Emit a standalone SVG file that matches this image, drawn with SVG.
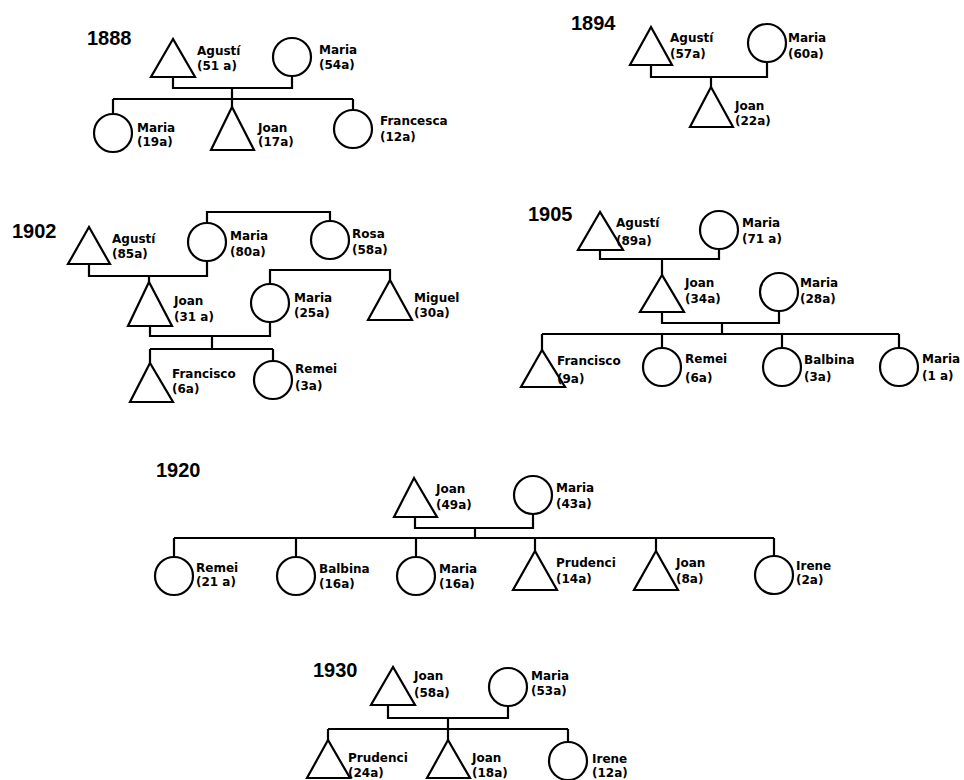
<svg xmlns="http://www.w3.org/2000/svg" width="964" height="780" viewBox="0 0 964 780">
<style>
.s{fill:#fff;stroke:#000;stroke-width:2.2}
.c path{fill:none;stroke:#000;stroke-width:2.2}
.l{font-family:"DejaVu Sans","Liberation Sans",sans-serif;font-weight:bold;font-size:12px;fill:#000}
.y{font-family:"Liberation Sans",Arial,sans-serif;font-weight:bold;font-size:20px;fill:#000}
</style>
<rect width="964" height="780" fill="#fff"/>
<g id="years">
<text class="y" x="87" y="45">1888</text>
<text class="y" x="571" y="30">1894</text>
<text class="y" x="12" y="238">1902</text>
<text class="y" x="528" y="221">1905</text>
<text class="y" x="156" y="477">1920</text>
<text class="y" x="313" y="677">1930</text>
</g>
<g id="connectors" class="c">
<path d="M173,77 V88 H292 V76 M232,88 V99 M113,99 H353 M113,99 V114 M232,99 V107 M353,99 V110"/>
<path d="M651,65 V77 H767 V62 M711,77 V87"/>
<path d="M89,264 V276 H207 V261 M207,223 V212 H330 V221 M149,276 V282 M270,284 V270 H390 V280 M150,326 V336 H270 V322 M212,336 V349 M150,349 H273 M150,349 V363 M273,349 V361"/>
<path d="M600,250 V259 H719 V249 M662,259 V275 M662,312 V323 H779 V311 M722,323 V334 M542,334 H899 M542,334 V350 M662,334 V348 M782,334 V348 M899,334 V348"/>
<path d="M415,517 V528 H533 V514 M475,528 V538 M174,538 H774 M174,538 V557 M296,538 V557 M416,538 V557 M535,538 V551 M656,538 V551 M774,538 V556"/>
<path d="M388,705 V718 H508 V706 M448,718 V729 M328,729 H568 M328,729 V740 M448,729 V740 M568,729 V742"/>
</g>
<g id="n1888_agusti"><polygon class="s" points="173,39 151,77 195,77"/><text class="l" x="197"><tspan x="197" y="55">Agustí</tspan><tspan x="197" y="70">(51 a)</tspan></text></g>
<g id="n1888_maria"><circle class="s" cx="292" cy="57" r="19"/><text class="l"><tspan x="319" y="54">Maria</tspan><tspan x="319" y="69">(54a)</tspan></text></g>
<g id="n1888_maria_child"><circle class="s" cx="113" cy="133" r="19"/><text class="l"><tspan x="137" y="132">Maria</tspan><tspan x="137" y="146">(19a)</tspan></text></g>
<g id="n1888_joan"><polygon class="s" points="232,107 211,150 254,150"/><text class="l"><tspan x="258" y="132">Joan</tspan><tspan x="258" y="146">(17a)</tspan></text></g>
<g id="n1888_francesca"><circle class="s" cx="353" cy="129" r="19"/><text class="l"><tspan x="380" y="125">Francesca</tspan><tspan x="380" y="141">(12a)</tspan></text></g>

<g id="n1894_agusti"><polygon class="s" points="651,27 630,65 672,65"/><text class="l"><tspan x="670" y="42">Agustí</tspan><tspan x="670" y="58">(57a)</tspan></text></g>
<g id="n1894_maria"><circle class="s" cx="767" cy="43" r="19"/><text class="l"><tspan x="788" y="42">Maria</tspan><tspan x="788" y="58">(60a)</tspan></text></g>
<g id="n1894_joan"><polygon class="s" points="711,87 690,127 733,127"/><text class="l"><tspan x="735" y="110">Joan</tspan><tspan x="735" y="125">(22a)</tspan></text></g>

<g id="n1902_agusti"><polygon class="s" points="89,227 68,264 110,264"/><text class="l"><tspan x="112" y="243">Agustí</tspan><tspan x="112" y="258">(85a)</tspan></text></g>
<g id="n1902_maria"><circle class="s" cx="207" cy="242" r="19"/><text class="l"><tspan x="230" y="240">Maria</tspan><tspan x="230" y="256">(80a)</tspan></text></g>
<g id="n1902_rosa"><circle class="s" cx="330" cy="240" r="19"/><text class="l"><tspan x="352" y="238">Rosa</tspan><tspan x="352" y="254">(58a)</tspan></text></g>
<g id="n1902_joan"><polygon class="s" points="149,282 128,326 172,326"/><text class="l"><tspan x="174" y="305">Joan</tspan><tspan x="174" y="321">(31 a)</tspan></text></g>
<g id="n1902_maria2"><circle class="s" cx="270" cy="303" r="19"/><text class="l"><tspan x="294" y="302">Maria</tspan><tspan x="294" y="317">(25a)</tspan></text></g>
<g id="n1902_miguel"><polygon class="s" points="390,280 368,320 412,320"/><text class="l"><tspan x="414" y="302">Miguel</tspan><tspan x="414" y="317">(30a)</tspan></text></g>
<g id="n1902_francisco"><polygon class="s" points="150,363 130,402 173,402"/><text class="l"><tspan x="172" y="378">Francisco</tspan><tspan x="172" y="393">(6a)</tspan></text></g>
<g id="n1902_remei"><circle class="s" cx="273" cy="380" r="19"/><text class="l"><tspan x="295" y="373">Remei</tspan><tspan x="295" y="390">(3a)</tspan></text></g>

<g id="n1905_agusti"><polygon class="s" points="600,212 578,250 623,250"/><text class="l"><tspan x="616" y="227">Agustí</tspan><tspan x="616" y="245">(89a)</tspan></text></g>
<g id="n1905_maria"><circle class="s" cx="719" cy="230" r="19"/><text class="l"><tspan x="742" y="227">Maria</tspan><tspan x="742" y="243">(71 a)</tspan></text></g>
<g id="n1905_joan"><polygon class="s" points="662,275 640,312 684,312"/><text class="l"><tspan x="685" y="287">Joan</tspan><tspan x="685" y="303">(34a)</tspan></text></g>
<g id="n1905_maria2"><circle class="s" cx="779" cy="292" r="19"/><text class="l"><tspan x="800" y="287">Maria</tspan><tspan x="800" y="303">(28a)</tspan></text></g>
<g id="n1905_francisco"><polygon class="s" points="542,350 521,387 565,387"/><text class="l"><tspan x="557" y="365">Francisco</tspan><tspan x="557" y="383">(9a)</tspan></text></g>
<g id="n1905_remei"><circle class="s" cx="662" cy="367" r="19"/><text class="l"><tspan x="685" y="363">Remei</tspan><tspan x="685" y="382">(6a)</tspan></text></g>
<g id="n1905_balbina"><circle class="s" cx="782" cy="367" r="19"/><text class="l"><tspan x="804" y="364">Balbina</tspan><tspan x="804" y="381">(3a)</tspan></text></g>
<g id="n1905_maria3"><circle class="s" cx="899" cy="367" r="19"/><text class="l"><tspan x="922" y="363">Maria</tspan><tspan x="922" y="380">(1 a)</tspan></text></g>

<g id="n1920_joan"><polygon class="s" points="414,478 394,517 437,517"/><text class="l"><tspan x="436" y="493">Joan</tspan><tspan x="436" y="509">(49a)</tspan></text></g>
<g id="n1920_maria"><circle class="s" cx="533" cy="495" r="19"/><text class="l"><tspan x="556" y="492">Maria</tspan><tspan x="556" y="508">(43a)</tspan></text></g>
<g id="n1920_remei"><circle class="s" cx="174" cy="576" r="19"/><text class="l"><tspan x="196" y="572">Remei</tspan><tspan x="196" y="586">(21 a)</tspan></text></g>
<g id="n1920_balbina"><circle class="s" cx="296" cy="576" r="19"/><text class="l"><tspan x="319" y="573">Balbina</tspan><tspan x="319" y="588">(16a)</tspan></text></g>
<g id="n1920_maria2"><circle class="s" cx="416" cy="576" r="19"/><text class="l"><tspan x="439" y="573">Maria</tspan><tspan x="439" y="588">(16a)</tspan></text></g>
<g id="n1920_prudenci"><polygon class="s" points="535,551 513,590 557,590"/><text class="l"><tspan x="556" y="567">Prudenci</tspan><tspan x="556" y="583">(14a)</tspan></text></g>
<g id="n1920_joan2"><polygon class="s" points="656,551 634,590 678,590"/><text class="l"><tspan x="676" y="567">Joan</tspan><tspan x="676" y="583">(8a)</tspan></text></g>
<g id="n1920_irene"><circle class="s" cx="774" cy="575" r="19"/><text class="l"><tspan x="796" y="570">Irene</tspan><tspan x="796" y="584">(2a)</tspan></text></g>

<g id="n1930_joan"><polygon class="s" points="393,667 371,705 415,705"/><text class="l"><tspan x="414" y="680">Joan</tspan><tspan x="414" y="697">(58a)</tspan></text></g>
<g id="n1930_maria"><circle class="s" cx="508" cy="687" r="19"/><text class="l"><tspan x="531" y="680">Maria</tspan><tspan x="531" y="695">(53a)</tspan></text></g>
<g id="n1930_prudenci"><polygon class="s" points="328,740 307,778 350,778"/><text class="l"><tspan x="348" y="762">Prudenci</tspan><tspan x="348" y="777">(24a)</tspan></text></g>
<g id="n1930_joan2"><polygon class="s" points="448,740 427,778 470,778"/><text class="l"><tspan x="472" y="762">Joan</tspan><tspan x="472" y="777">(18a)</tspan></text></g>
<g id="n1930_irene"><circle class="s" cx="568" cy="761" r="19"/><text class="l"><tspan x="592" y="763">Irene</tspan><tspan x="592" y="777">(12a)</tspan></text></g>
</svg>
